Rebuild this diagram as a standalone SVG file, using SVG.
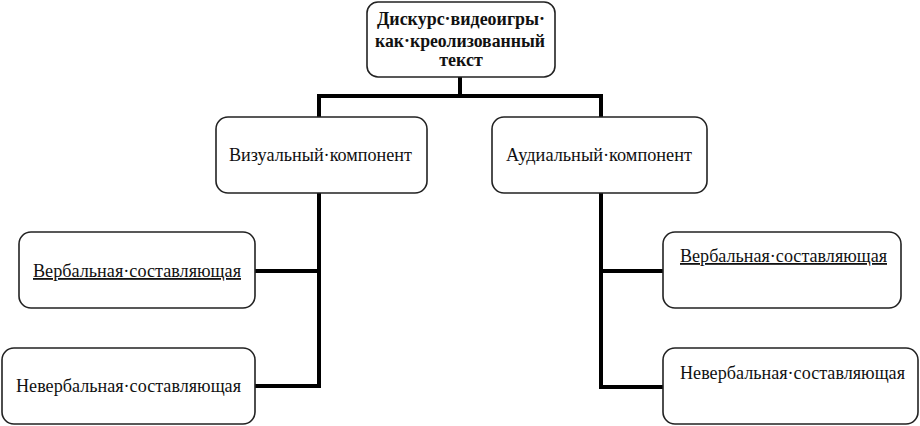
<svg xmlns="http://www.w3.org/2000/svg" width="920" height="426" viewBox="0 0 920 426">
<style>
.box{fill:#fff;stroke:#222;stroke-width:1.6}
.t{font-family:"Liberation Serif","DejaVu Serif",serif;font-size:18px;fill:#111}
.b{font-weight:bold;text-anchor:middle}
.u{text-decoration:underline}
.c{fill:none;stroke:#000;stroke-width:4;stroke-linejoin:miter;stroke-linecap:butt}
</style>
<rect width="920" height="426" fill="#fff"/>
<g id="connectors">
<path class="c" d="M460 77V96M319 117V96H601V117"/>
<path class="c" d="M319 193V386M255 271H321M255 386H321"/>
<path class="c" d="M601 193V387M599 271H663M599 387H663"/>
</g>
<g id="root">
<rect class="box" x="367" y="2" width="188" height="75" rx="11"/>
<text class="t b" x="461" y="25" textLength="168" lengthAdjust="spacingAndGlyphs">Дискурс·видеоигры·</text>
<text class="t b" x="460" y="47" textLength="170" lengthAdjust="spacingAndGlyphs">как·креолизованный</text>
<text class="t b" x="461" y="66">текст</text>
</g>
<g id="visual">
<rect class="box" x="216" y="117" width="211" height="76" rx="12"/>
<text class="t" x="229" y="161" textLength="183" lengthAdjust="spacingAndGlyphs">Визуальный·компонент</text>
</g>
<g id="audial">
<rect class="box" x="492" y="117" width="215" height="76" rx="12"/>
<text class="t" x="506" y="161" textLength="186" lengthAdjust="spacingAndGlyphs">Аудиальный·компонент</text>
</g>
<g id="vis-verbal">
<rect class="box" x="19" y="232" width="236" height="76" rx="12"/>
<text class="t u" x="33" y="277" textLength="208" lengthAdjust="spacingAndGlyphs">Вербальная·составляющая</text>
</g>
<g id="vis-nonverbal">
<rect class="box" x="2" y="348" width="253" height="76" rx="12"/>
<text class="t" x="16" y="392" textLength="225" lengthAdjust="spacingAndGlyphs">Невербальная·составляющая</text>
</g>
<g id="aud-verbal">
<rect class="box" x="663" y="232" width="238" height="76" rx="12"/>
<text class="t u" x="680" y="262" textLength="207" lengthAdjust="spacingAndGlyphs">Вербальная·составляющая</text>
</g>
<g id="aud-nonverbal">
<rect class="box" x="663" y="348" width="255" height="76" rx="12"/>
<text class="t" x="680" y="379" textLength="225" lengthAdjust="spacingAndGlyphs">Невербальная·составляющая</text>
</g>
</svg>
